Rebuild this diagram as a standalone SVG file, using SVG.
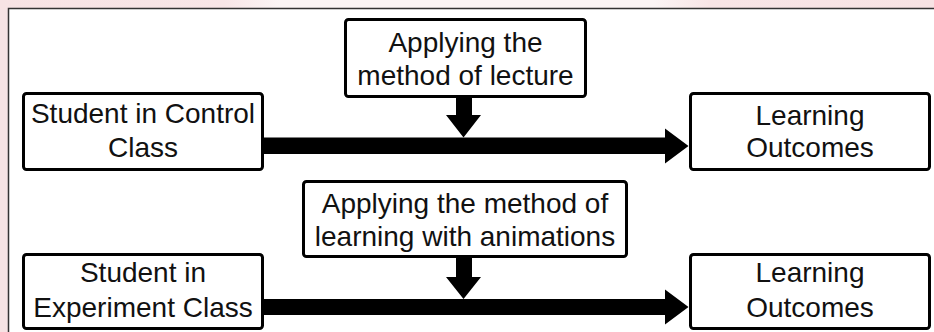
<svg xmlns="http://www.w3.org/2000/svg" width="934" height="332" viewBox="0 0 934 332">
  <defs>
    <linearGradient id="topGlow" x1="0" y1="0" x2="1" y2="0">
      <stop offset="0" stop-color="#f7e3e4"/>
      <stop offset="0.24" stop-color="#f8e6e7"/>
      <stop offset="0.3" stop-color="#fbf5f5"/>
      <stop offset="0.7" stop-color="#fbf5f5"/>
      <stop offset="0.76" stop-color="#f8e5e6"/>
      <stop offset="1" stop-color="#f7e3e4"/>
    </linearGradient>
    <style>
      .box { fill: #ffffff; stroke: #000000; stroke-width: 3; }
      .label { font-family: "Liberation Sans", Arial, sans-serif; font-size: 28px; fill: #111111; text-anchor: middle; }
      .conn { fill: #000000; stroke: none; }
    </style>
  </defs>

  <!-- page background and frame -->
  <rect x="0" y="0" width="934" height="332" fill="#f6e3e4"/>
  <rect x="0" y="0" width="934" height="9" fill="url(#topGlow)"/>
  <rect x="8.5" y="8.5" width="940" height="340" fill="#ffffff" stroke="#333333" stroke-width="1.5"/>

  <!-- connectors -->
  <g id="connectors">
    <polygon class="conn" points="264,137.5 665,137.5 665,128.5 688.5,146 665,163.5 665,154 264,154"/>
    <polygon class="conn" points="456,98 472,98 472,115 481,115 463.5,137.5 446,115 456,115"/>
    <polygon class="conn" points="264,299 665,299 665,289.5 688.5,307 665,324.5 665,315 264,315"/>
    <polygon class="conn" points="456,258 472,258 472,277 481,277 463.5,299 446,277 456,277"/>
  </g>

  <!-- control class row -->
  <g id="control-student">
    <rect class="box" x="23.5" y="93.5" width="239" height="76" rx="3"/>
    <text class="label" x="143" y="123">Student in Control</text>
    <text class="label" x="143" y="157">Class</text>
  </g>
  <g id="lecture-method">
    <rect class="box" x="345.5" y="19.5" width="240" height="77" rx="3"/>
    <text class="label" x="465.5" y="52">Applying the</text>
    <text class="label" x="465.5" y="85">method of lecture</text>
  </g>
  <g id="control-outcomes">
    <rect class="box" x="690.5" y="93.5" width="239" height="76" rx="3"/>
    <text class="label" x="810" y="125">Learning</text>
    <text class="label" x="810" y="157">Outcomes</text>
  </g>

  <!-- experiment class row -->
  <g id="experiment-student">
    <rect class="box" x="23.5" y="254.5" width="239" height="74" rx="3"/>
    <text class="label" x="143" y="282">Student in</text>
    <text class="label" x="143" y="317">Experiment Class</text>
  </g>
  <g id="animation-method">
    <rect class="box" x="303.5" y="181.5" width="323" height="75" rx="3"/>
    <text class="label" x="465" y="213">Applying the method of</text>
    <text class="label" x="465" y="246">learning with animations</text>
  </g>
  <g id="experiment-outcomes">
    <rect class="box" x="690.5" y="254.5" width="239" height="74" rx="3"/>
    <text class="label" x="810" y="282">Learning</text>
    <text class="label" x="810" y="317">Outcomes</text>
  </g>
</svg>
